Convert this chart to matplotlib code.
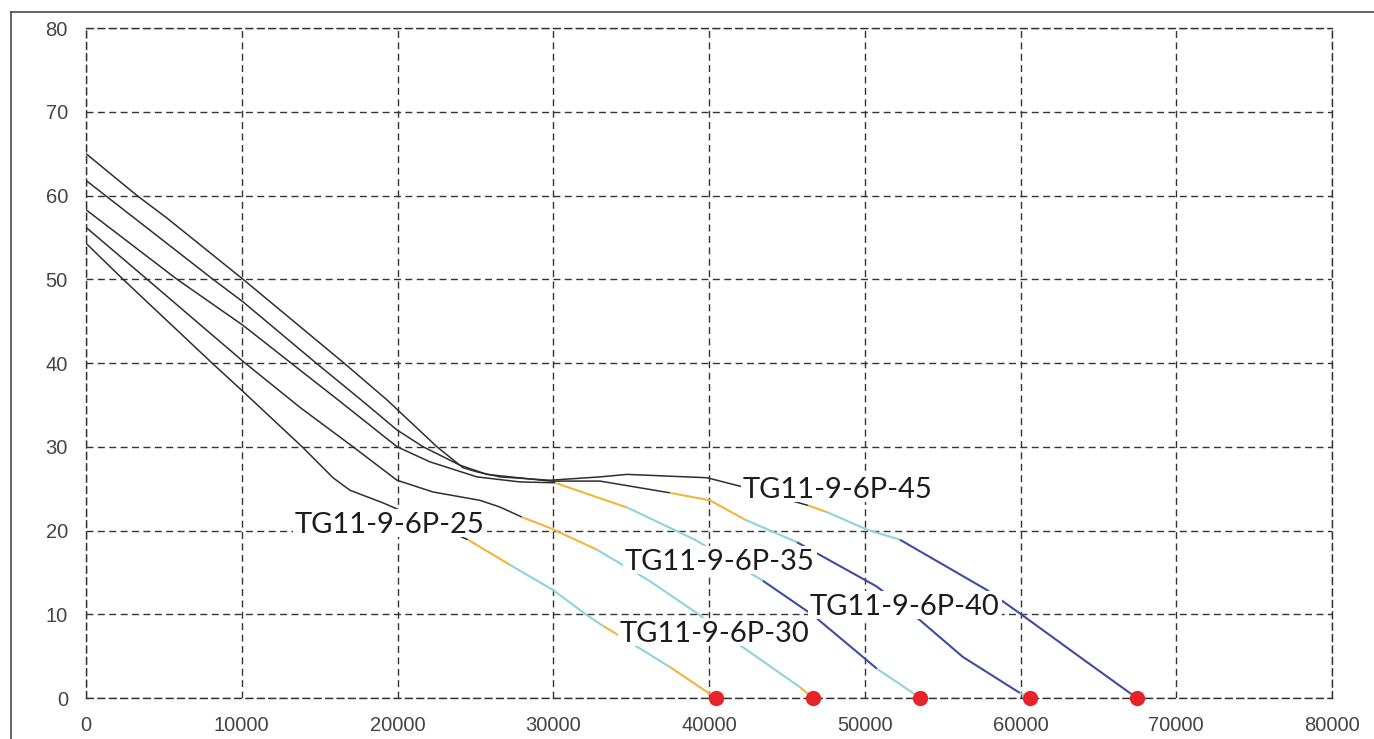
import matplotlib
matplotlib.use("Agg")
import matplotlib.pyplot as plt
from matplotlib.lines import Line2D
from matplotlib.patches import Rectangle

# ---------------- data ----------------
x_ticks = [0, 10000, 20000, 30000, 40000, 50000, 60000, 70000, 80000]
y_ticks = [0, 10, 20, 30, 40, 50, 60, 70, 80]

# zone codes per segment: k = black part, y = yellow, c = cyan, b = blue
x_25 = [0, 2375, 8090, 10080, 13930, 15860, 16950, 19070, 24520, 27220, 29980, 32160, 33200, 34100, 37490, 40450]
y_25 = [54.3, 50.0, 40.0, 36.6, 29.9, 26.3, 24.8, 23.3, 18.9, 15.9, 12.9, 9.9, 8.6, 7.6, 3.7, 0]
z_25 = ["k", "k", "k", "k", "k", "k", "k", "k", "y", "c", "c", "c", "y", "c", "y"]

x_30 = [0, 3920, 10210, 13740, 17140, 19970, 22280, 25300, 26580, 27990, 29790, 32810, 36080, 39100, 41990, 45840, 46670]
y_30 = [56.2, 50.0, 40.0, 34.7, 30.0, 26.0, 24.6, 23.6, 22.8, 21.6, 20.3, 17.7, 14.1, 10.3, 6.3, 1.3, 0]
z_30 = ["k", "k", "k", "k", "k", "k", "k", "k", "k", "y", "y", "c", "c", "c", "c", "y"]

x_35 = [0, 5840, 10080, 13160, 16180, 19970, 22080, 25100, 27860, 30110, 34800, 39100, 43460, 46670, 50140, 50780, 53090, 53540]
y_35 = [58.3, 50.0, 44.5, 40.0, 35.6, 30.0, 28.2, 26.4, 25.8, 25.7, 22.7, 18.9, 14.0, 9.9, 4.5, 3.5, 0.6, 0]
z_35 = ["k", "k", "k", "k", "k", "k", "k", "k", "k", "y", "c", "c", "b", "b", "b", "c", "c"]

x_40 = [0, 8150, 10080, 14770, 17660, 19970, 21640, 24010, 25740, 29790, 33000, 37490, 40060, 42310, 45650, 50780, 53540, 56300, 59960, 60600]
y_40 = [61.8, 50.0, 47.3, 40.0, 35.6, 32.0, 30.0, 27.8, 26.7, 25.9, 25.9, 24.5, 23.6, 21.3, 18.6, 13.3, 9.3, 4.9, 0.6, 0]
z_40 = ["k", "k", "k", "k", "k", "k", "k", "k", "k", "k", "k", "y", "y", "c", "b", "b", "b", "b", "c"]

x_45 = [0, 3270, 5200, 10080, 16560, 19320, 22530, 24200, 25100, 26580, 29790, 33000, 34730, 39870, 42180, 46350, 47570, 50140, 52260, 57840, 59960, 63810, 67470]
y_45 = [65.0, 60.0, 57.3, 50.0, 40.0, 35.6, 30.0, 27.5, 27.0, 26.4, 26.0, 26.4, 26.7, 26.3, 25.2, 23.0, 22.2, 20.1, 18.9, 12.9, 10.1, 4.9, 0]
z_45 = ["k", "k", "k", "k", "k", "k", "k", "k", "k", "k", "k", "k", "k", "k", "k", "y", "c", "c", "b", "b", "b", "b"]

labels = ["TG11-9-6P-25", "TG11-9-6P-30", "TG11-9-6P-35", "TG11-9-6P-40", "TG11-9-6P-45"]
label_x = [13420, 34280, 34600, 46480, 42180]
label_y = [19.7, 6.7, 15.3, 9.9, 23.9]

curves = [(x_25, y_25, z_25), (x_30, y_30, z_30), (x_35, y_35, z_35),
          (x_40, y_40, z_40), (x_45, y_45, z_45)]

# ---------------- style ----------------
zone_color = {"k": "#2e2e2e", "y": "#f2b53a", "c": "#8ed2dc", "b": "#3d4d9e"}
zone_lw = {"k": 1.1, "y": 1.5, "c": 1.5, "b": 1.5}

W, H = 1374, 739
fig = plt.figure(figsize=(W / 100, H / 100), dpi=100)
ax = fig.add_axes([86 / W, 1 - 698 / H, (1332 - 86) / W, (698 - 28) / H])
ax.set_xlim(0, 80000)
ax.set_ylim(0, 80)
ax.set_xticks(x_ticks)
ax.set_yticks(y_ticks)
ax.set_xticklabels([str(v) for v in x_ticks])
ax.set_yticklabels([str(v) for v in y_ticks])

dash = (0, (5, 3.2))
ax.grid(True, linestyle=dash, color="#333333", linewidth=1.0, zorder=0)
ax.set_axisbelow(True)
for s in ax.spines.values():
    s.set_linestyle(dash)
    s.set_color("#333333")
    s.set_linewidth(1.0)

ax.tick_params(length=0, labelsize=14.5, labelcolor="#444444")
ax.tick_params(axis="y", pad=13)
ax.tick_params(axis="x", pad=13)
for t in ax.get_xticklabels() + ax.get_yticklabels():
    t.set_family("Liberation Sans")

for xs, ys, zs in curves:
    i = 0
    n = len(zs)
    while i < n:
        j = i
        while j + 1 < n and zs[j + 1] == zs[i]:
            j += 1
        z = zs[i]
        ax.plot(xs[i:j + 2], ys[i:j + 2], color=zone_color[z], lw=zone_lw[z],
                solid_capstyle="butt", zorder=2)
        i = j + 1
    ax.plot([xs[-1]], [ys[-1]], "o", color="#e8222b", ms=11, mec="none",
            clip_on=False, zorder=6)

fs = 21
texts = []
for name, lx, ly in zip(labels, label_x, label_y):
    t = ax.text(lx, ly, name, fontsize=fs, family="Lato", color="#1c1c1c",
                va="baseline", ha="left", zorder=4)
    texts.append((t, lx, ly))

# tight white boxes behind the labels (cap height only)
fig.canvas.draw()
inv = ax.transData.inverted()
cap_px = fs * 100 / 72 * 0.72
for t, lx, ly in texts:
    bb = t.get_window_extent()
    bx, by = ax.transData.transform((lx, ly))
    (x0, y0) = inv.transform((bb.x0 - 2, by - 4))
    (x1, y1) = inv.transform((bb.x1 + 2, by + cap_px + 3))
    ax.add_patch(Rectangle((x0, y0), x1 - x0, y1 - y0, fc="white", ec="none", zorder=3))

# figure frame (top and left edges visible)
fig.add_artist(Line2D([11 / W, 11 / W], [0, 1 - 12 / H], transform=fig.transFigure,
                      color="#4a4a4a", lw=1.2))
fig.add_artist(Line2D([11 / W, 1], [1 - 12 / H, 1 - 12 / H], transform=fig.transFigure,
                      color="#4a4a4a", lw=1.2))

fig.savefig("out.png", dpi=100)
